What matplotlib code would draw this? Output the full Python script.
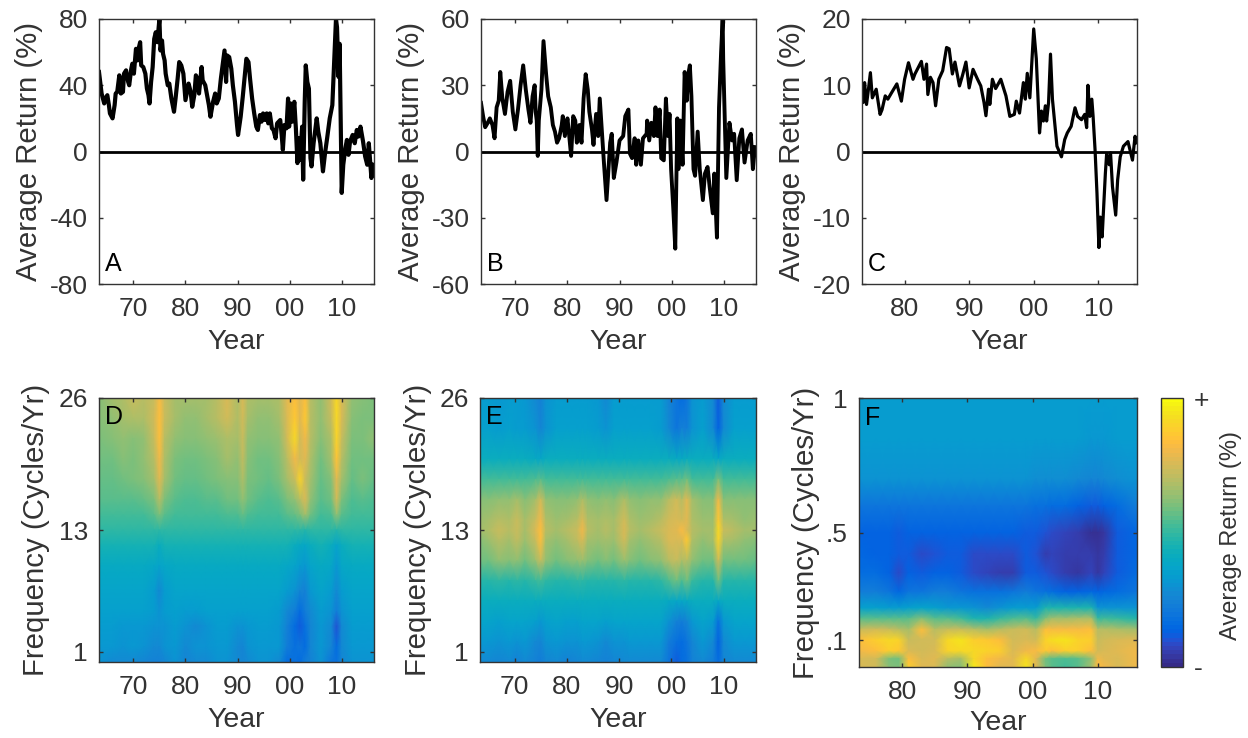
import numpy as np
import matplotlib
matplotlib.use('Agg')
from matplotlib import pyplot as plt
from matplotlib.colors import ListedColormap, Normalize
from matplotlib.cm import ScalarMappable

plt.rcParams['font.family'] = ['Liberation Sans', 'DejaVu Sans']

W, H = 1248, 738
GRAY = '#333333'

# line panels
years_a = [1963.4,1963.9,1964.4,1964.8,1965.0,1965.3,1965.5,1966.0,1966.4,1966.6,1966.9,1967.3,1967.6,1968.0,1968.2,1968.6,1969.0,1969.2,1969.6,1969.8,
           1970.1,1970.5,1970.8,1971.0,1971.3,1971.5,1971.9,1972.3,1972.6,1972.9,1973.1,1973.4,1973.7,1974.0,1974.3,1974.6,1975.0,1975.2,1975.5,1975.7,
           1976.0,1976.2,1976.6,1976.9,1977.3,1977.8,1978.1,1978.5,1978.8,1979.2,1979.6,1980.0,1980.3,1980.6,1981.0,1981.3,1981.7,1982.0,1982.3,1982.6,
           1983.1,1983.3,1983.8,1984.1,1984.5,1984.8,1985.3,1985.7,1986.0,1986.4,1986.8,1987.2,1987.5,1987.8,1988.0,1988.4,1988.8,1989.1,1989.5,1989.9,
           1990.1,1990.6,1991.0,1991.4,1991.7,1992.1,1992.4,1992.8,1993.2,1993.6,1993.9,1994.3,1994.6,1994.9,1995.3,1995.6,1995.9,1996.2,1996.6,1996.9,
           1997.3,1997.6,1998.2,1998.5,1998.7,1999.0,1999.4,1999.7,1999.9,2000.2,2000.5,2000.9,2001.2,2001.5,2001.8,2002.0,2002.4,2002.6,2002.9,2003.1,
           2003.4,2003.7,2004.0,2004.2,2004.6,2005.0,2005.2,2005.5,2005.9,2006.4,2006.8,2007.2,2007.7,2008.2,2008.5,2008.9,2009.1,2009.4,2009.6,2009.8,
           2010.0,2010.3,2010.7,2011.0,2011.3,2011.6,2012.1,2012.5,2012.9,2013.2,2013.6,2014.1,2014.5,2014.9,2015.2,2015.7,2016.1]
ret_a = [48,35,29,33,34,28,23,20,28,35,36,46,35,36,47,49,42,40,50,53,
         47,62,55,62,66,52,51,47,38,34,29,42,51,68,72,66,80,61,67,59,
         55,47,40,41,32,24,32,44,54,52,47,31,36,41,36,27,34,46,44,35,
         51,43,40,35,28,21,30,35,29,32,44,54,61,42,58,57,50,40,30,16,
         10,21,33,46,56,54,44,32,23,15,13,22,18,23,19,23,17,23,14,13,
         8,17,19,9,1,16,14,32,15,29,18,30,14,-7,8,-5,15,-17,30,52,
         42,38,-4,-9,5,15,20,12,5,-12,-1,8,20,28,50,80,75,45,65,18,
         -25,-8,2,7,-2,6,10,5,13,9,15,6,-3,-8,5,-16,-8]

years_b = [1963.4,1963.8,1964.2,1964.7,1965.1,1965.6,1966.0,1966.4,1966.8,1967.1,1967.5,1968.0,1968.5,1969.0,1969.5,1970.0,1970.5,1971.0,1971.5,1972.0,
           1972.5,1972.9,1973.3,1973.7,1973.9,1974.1,1974.3,1974.5,1975.0,1975.4,1975.9,1976.3,1976.8,1977.2,1977.6,1978.0,1978.4,1978.9,1979.1,1979.5,
           1980.0,1980.3,1980.7,1981.1,1981.5,1981.8,1982.3,1982.7,1983.1,1983.5,1983.9,1984.2,1984.7,1985.0,1985.5,1985.9,1986.2,1987.0,1987.5,1988.2,
           1988.5,1988.9,1989.4,1990.0,1990.7,1991.1,1991.7,1992.0,1992.4,1992.9,1993.2,1993.6,1994.1,1994.5,1995.2,1995.3,1995.7,1996.1,1996.6,1996.9,
           1997.3,1997.7,1998.0,1998.5,1998.9,1999.3,1999.6,1999.9,2000.3,2000.7,2001.1,2001.3,2001.7,2002.1,2002.5,2002.9,2003.2,2003.5,2003.8,2004.2,
           2004.5,2005.0,2005.4,2006.0,2006.4,2006.9,2007.3,2007.9,2008.2,2008.7,2009.1,2009.5,2009.8,2009.9,2010.2,2010.5,2011.1,2011.6,2012.0,2012.5,
           2013.0,2013.5,2014.0,2014.6,2015.2,2015.6,2016.0]
ret_b = [22,16,11,13,15,12,6,20,23,36,24,17,27,32,18,10,19,30,39,28,
         19,13,25,30,18,14,-2,14,28,50,35,25,20,12,9,4,6,12,16,7,
         15,8,-2,16,14,4,12,4,24,35,28,18,10,3,17,7,24,-5,-22,4,
         8,-12,-5,5,7,16,19,-1,-3,6,-6,5,-6,6,8,14,5,13,7,20,
         7,19,-3,-4,24,7,17,-8,-25,-44,15,-8,14,-6,36,23,35,39,25,-8,
         -11,9,-8,-22,-10,-7,-16,-28,-10,-39,20,45,60,42,15,-12,13,5,8,-13,
         6,10,-5,5,8,-8,2]

years_c = [1973.4,1973.6,1973.8,1974.1,1974.4,1974.7,1975.0,1975.6,1976.2,1976.5,1977.0,1977.4,1978.0,1978.8,1979.5,1980.0,1980.6,1981.3,1981.6,1982.6,
           1983.0,1983.4,1983.6,1984.0,1984.4,1984.8,1985.3,1985.9,1986.5,1986.9,1987.4,1987.8,1988.5,1989.0,1989.5,1990.0,1990.6,1991.3,1991.8,1992.3,
           1992.6,1993.0,1993.2,1993.6,1994.1,1994.9,1995.7,1996.3,1997.0,1997.3,1997.8,1998.4,1998.7,1999.0,1999.4,2000.0,2000.4,2000.9,2001.2,2001.5,
           2001.8,2002.0,2002.3,2002.6,2002.9,2003.6,2004.3,2004.8,2005.2,2005.8,2006.4,2006.8,2007.4,2007.9,2008.2,2008.4,2008.7,2009.0,2009.2,2009.5,
           2009.8,2010.1,2010.3,2010.6,2011.1,2011.3,2011.7,2011.9,2012.2,2012.7,2013.0,2013.4,2013.9,2014.6,2015.3,2015.7,2015.9]
ret_c = [9.6,7.4,10.4,7.1,9.4,11.9,8.1,9.4,5.6,6.3,8.4,7.9,8.9,10.2,7.6,10.9,13.4,10.9,11.7,13.6,
         10.9,13.2,8.6,11.2,10.4,6.9,10.9,12.2,15.7,15.5,11.7,13.5,9.9,11.6,13.5,9.6,12.4,10.9,9.9,7.4,
         5.4,9.4,7.1,10.9,9.5,10.9,8.4,5.3,5.6,7.6,5.8,10.4,7.9,11.8,8.1,18.5,14,2.8,6.1,4.6,
         6.9,4.6,7.4,14.7,7.9,0.8,-0.8,1.8,2.8,3.8,6.6,5.3,4.8,5.6,3.6,10,5.3,7.9,5.3,0.3,
         -6.3,-14.5,-9.9,-12.9,-3.3,-0.3,-2,-0.2,-5.3,-9.6,-4.3,-0.8,0.8,1.5,-1.3,2.3,1.3]

# heat map panels, position on the colour scale 0-100
years_d = [1963.4,1966,1968,1970,1972,1974,1975,1976,1978,1980,1982,1984,1986,1988,1990,1991,1992,1994,1996,1998,1999.5,2001,2002,2003,2004,2006,2008,2009,2010,2012,2014,2016.2]
freq_d = [26,24,22,20,18,16,14.5,13,11.5,9.5,7,5,3.5,1.5,0]
heat_d = [
    [62,66,68,72,70,72,82,72,66,66,66,66,70,76,68,76,68,66,66,68,78,84,78,84,70,64,74,91,76,64,62,60],
    [62,64,66,68,68,74,84,72,66,64,64,66,70,74,68,74,66,64,64,66,76,86,78,86,70,64,72,92,76,62,60,60],
    [60,62,63,62,64,72,83,70,63,61,61,63,65,68,66,72,64,61,61,64,74,92,74,80,70,61,68,90,72,60,60,63],
    [58,59,61,60,63,70,80,68,60,59,59,60,62,66,64,71,62,59,59,62,70,80,74,78,68,59,66,85,70,59,59,59],
    [57,57,59,60,62,66,78,66,59,57,57,58,60,62,62,68,60,58,57,60,66,72,90,72,66,57,62,78,66,57,60,57],
    [55,55,55,56,57,60,70,60,55,54,54,55,56,58,58,64,58,55,54,56,60,64,70,76,64,55,58,74,60,54,55,54],
    [53,53,53,53,53,55,60,56,53,53,53,53,53,54,54,57,54,53,53,53,55,57,60,66,58,53,54,64,55,53,53,53],
    [49,49,49,49,49,49,49,49,49,49,49,49,49,49,49,49,49,49,49,49,49,49,49,48,49,49,49,48,49,49,49,49],
    [44,44,44,44,44,44,42,44,44,44,44,44,44,44,44,44,44,44,44,44,44,42,40,38,42,44,42,36,42,44,44,44],
    [40,40,40,40,40,38,36,39,40,40,40,40,40,40,40,40,40,40,40,40,38,36,34,32,36,40,38,32,38,40,40,40],
    [37,37,37,37,37,33,27,33,37,37,37,37,37,37,37,37,37,37,37,36,33,30,26,24,32,36,34,28,34,37,37,37],
    [35,35,35,35,35,33,30,33,35,34,34,35,35,35,35,35,35,35,35,34,28,22,16,22,28,34,30,22,30,35,35,35],
    [33,33,32,32,32,30,30,31,33,30,28,30,33,33,31,30,32,33,33,32,24,16,12,18,26,32,28,10,28,33,33,33],
    [32,32,30,32,30,27,28,30,32,28,30,30,32,32,28,26,30,32,32,32,22,18,20,16,26,32,26,16,28,32,32,32],
    [30,28,27,28,26,24,24,26,30,25,27,28,30,30,27,25,28,30,30,28,16,18,16,22,24,30,20,18,26,30,30,30],
]

years_e = [1963.4,1965,1967,1969,1970.5,1972,1974,1975,1976,1978,1980,1982,1983,1984,1986,1987.5,1989,1991,1992,1994,1996,1998,1999.5,2001,2002,2003,2004,2006,2008,2009,2010,2012,2014,2016.2]
freq_e = [26,23,20,18,16,14,13,12,10,8,6,4,2,0]
heat_e = [
    [33,33,32,33,33,32,28,24,30,33,33,33,33,33,32,28,33,33,33,33,33,33,26,20,16,20,30,33,28,12,28,33,33,33],
    [35,35,34,35,34,34,30,26,31,35,35,35,35,35,34,31,35,35,35,35,35,34,28,20,24,22,30,35,28,14,28,35,35,35],
    [42,42,42,42,42,42,40,39,41,42,42,42,42,42,42,41,42,42,42,42,42,42,41,40,40,41,41,42,41,38,41,42,42,42],
    [52,52,53,52,53,52,54,56,53,52,52,52,53,52,52,53,52,53,52,52,52,52,54,56,55,58,53,52,52,60,52,52,52,52],
    [62,62,64,64,66,62,66,74,64,62,62,64,68,64,62,64,62,68,64,62,64,64,70,74,70,78,66,62,62,80,62,62,62,62],
    [65,66,70,68,72,66,72,80,68,65,66,70,76,68,66,68,66,74,68,65,66,70,74,76,74,78,68,65,65,86,68,66,64,65],
    [66,68,73,70,73,67,75,84,69,66,69,73,80,69,67,69,67,76,69,66,69,73,76,78,82,76,69,66,67,92,72,69,66,66],
    [62,65,70,67,71,65,73,84,67,64,67,71,76,67,65,67,65,74,67,64,67,70,76,76,76,86,68,64,66,90,68,66,64,62],
    [59,59,63,61,63,59,65,72,63,59,61,63,65,61,59,61,59,65,61,59,61,63,70,72,68,70,63,59,59,74,59,59,59,57],
    [48,48,49,48,49,48,50,52,49,48,48,49,49,48,48,48,48,49,48,48,48,49,54,58,54,58,50,48,48,58,48,48,48,48],
    [42,42,42,42,42,42,42,41,42,42,42,42,42,42,42,42,42,42,42,42,42,42,40,39,38,40,41,42,42,38,42,42,42,42],
    [36,36,35,36,36,36,35,32,35,36,35,35,36,36,36,35,36,36,36,36,36,36,30,24,22,26,32,36,34,18,32,36,36,36],
    [32,32,30,32,30,32,28,26,30,32,30,30,32,32,30,28,30,30,32,32,32,32,22,18,16,20,26,32,28,14,28,32,32,32],
    [28,28,26,28,24,28,24,22,26,28,24,26,28,28,26,24,26,28,28,28,28,28,20,12,16,18,24,28,22,16,26,28,28,28],
]

years_f = [1973.4,1976,1978,1979.5,1981,1983,1985,1987,1989,1991,1993,1995,1997,1999,2000.5,2002,2003,2005,2007,2009,2010,2011,2013,2016]
freq_f = [1,.85,.7,.6,.5,.42,.35,.28,.22,.18,.14,.1,.06,.03,0]
heat_f = [
    [34,34,34,34,34,34,34,34,34,34,34,34,34,34,34,34,34,34,34,34,34,34,34,34],
    [33,33,33,33,33,33,33,33,33,33,33,33,33,33,33,33,33,33,33,32,32,32,33,33],
    [30,30,30,30,30,30,30,30,30,30,30,30,30,30,29,29,29,29,28,26,26,27,29,31],
    [20,20,20,20,20,20,20,20,19,19,19,19,19,19,18,18,17,16,14,12,12,13,17,22],
    [14,14,13,12,13,14,13,13,13,13,13,13,13,12,11,10,9,7,6,3,2,4,11,15],
    [15,14,13,11,12,9,10,12,11,9,8,8,8,11,10,6,7,6,5,6,4,6,12,15],
    [17,16,14,9,14,11,13,14,12,9,7,6,6,12,11,10,8,5,4,7,4,7,12,16],
    [22,22,20,15,20,20,22,22,20,18,18,18,20,22,20,18,17,14,14,15,14,15,17,20],
    [35,35,33,33,35,36,35,32,32,30,28,30,33,34,33,46,46,46,46,46,30,30,30,30],
    [55,55,55,55,56,62,55,55,52,46,46,50,54,55,50,62,66,66,68,68,50,52,50,48],
    [72,74,72,70,66,84,70,72,72,70,66,70,72,74,70,84,82,82,82,84,70,70,68,66],
    [84,88,91,90,72,74,74,92,94,88,86,84,74,76,74,90,93,95,90,88,72,74,76,78],
    [80,84,88,86,76,74,76,90,92,92,90,88,76,80,82,86,84,88,88,84,74,76,78,80],
    [76,74,60,58,84,76,78,70,66,92,84,80,78,92,78,58,56,54,56,64,80,78,76,80],
    [76,74,62,60,88,78,76,64,62,96,84,78,78,95,78,60,56,52,56,66,84,80,76,80],
]

parula = ListedColormap([
    (0.2081,0.1663,0.5292),(0.2116,0.1898,0.5777),(0.2123,0.2138,0.6270),(0.2081,0.2386,0.6771),
    (0.1959,0.2645,0.7279),(0.1707,0.2919,0.7792),(0.1253,0.3242,0.8303),(0.0591,0.3598,0.8683),
    (0.0117,0.3875,0.8820),(0.0060,0.4086,0.8828),(0.0165,0.4266,0.8786),(0.0329,0.4430,0.8720),
    (0.0498,0.4586,0.8641),(0.0629,0.4737,0.8554),(0.0723,0.4887,0.8467),(0.0779,0.5040,0.8384),
    (0.0793,0.5200,0.8312),(0.0749,0.5375,0.8263),(0.0641,0.5570,0.8240),(0.0488,0.5772,0.8228),
    (0.0343,0.5966,0.8199),(0.0265,0.6137,0.8135),(0.0239,0.6287,0.8038),(0.0231,0.6418,0.7913),
    (0.0228,0.6535,0.7768),(0.0267,0.6642,0.7607),(0.0384,0.6743,0.7436),(0.0590,0.6838,0.7254),
    (0.0843,0.6928,0.7062),(0.1133,0.7015,0.6859),(0.1453,0.7098,0.6646),(0.1801,0.7177,0.6424),
    (0.2178,0.7250,0.6193),(0.2586,0.7317,0.5954),(0.3022,0.7376,0.5712),(0.3482,0.7424,0.5473),
    (0.3953,0.7459,0.5244),(0.4420,0.7481,0.5033),(0.4871,0.7491,0.4840),(0.5300,0.7491,0.4661),
    (0.5709,0.7485,0.4494),(0.6099,0.7473,0.4337),(0.6473,0.7456,0.4188),(0.6834,0.7435,0.4044),
    (0.7184,0.7411,0.3905),(0.7525,0.7384,0.3768),(0.7858,0.7356,0.3633),(0.8185,0.7327,0.3498),
    (0.8507,0.7299,0.3360),(0.8824,0.7274,0.3217),(0.9139,0.7258,0.3063),(0.9450,0.7261,0.2886),
    (0.9739,0.7314,0.2666),(0.9938,0.7455,0.2403),(0.9990,0.7653,0.2164),(0.9955,0.7861,0.1967),
    (0.9880,0.8066,0.1794),(0.9789,0.8271,0.1633),(0.9697,0.8481,0.1475),(0.9626,0.8705,0.1309),
    (0.9589,0.8949,0.1132),(0.9598,0.9218,0.0948),(0.9661,0.9514,0.0755),(0.9763,0.9831,0.0538)])

fig = plt.figure(figsize=(W/100, H/100), dpi=100)

def add_axes(x0, x1, y0, y1):
    # pixel box, y from the top of the image
    return fig.add_axes([x0/W, 1-y1/H, (x1-x0)/W, (y1-y0)/H])

def style(ax, letter, xlim, xticks, xticklabels, ylim, yticks, yticklabels, ylabel, lab_x, year_y):
    ax.set_xlim(xlim)
    ax.set_ylim(ylim)
    ax.set_xticks(xticks)
    ax.set_xticklabels(xticklabels)
    ax.set_yticks(yticks)
    ax.set_yticklabels(yticklabels)
    ax.tick_params(direction='in', length=3, width=1, top=True, right=True, color=GRAY,
                   labelcolor=GRAY, labelsize=19)
    ax.tick_params(axis='x', pad=9.5)
    ax.tick_params(axis='y', pad=8)
    for s in ax.spines.values():
        s.set_color(GRAY)
        s.set_linewidth(1)
    ax.set_ylabel(ylabel, fontsize=21.2, color=GRAY)
    ax.set_xlabel('Year', fontsize=20.5, color=GRAY)
    ax.yaxis.set_label_coords(lab_x, 0.5)
    ax.xaxis.set_label_coords(0.5, year_y)
    ax.text(0.022, 0.05 if letter in 'ABC' else 0.9, letter, transform=ax.transAxes, fontsize=18,
            color='black', va='baseline', ha='left')

xt_long = [1970, 1980, 1990, 2000, 2010]
xl_long = ['70', '80', '90', '00', '10']
xt_short = [1980, 1990, 2000, 2010]
xl_short = ['80', '90', '00', '10']
lim_long = (1963.4, 2016.2)
lim_short = (1973.4, 2016.0)

line_panels = [
    ('A', (99, 374), years_a, ret_a, 80, [-80,-40,0,40,80], lim_long, xt_long, xl_long, 3.0),
    ('B', (481, 756), years_b, ret_b, 60, [-60,-30,0,30,60], lim_long, xt_long, xl_long, 2.8),
    ('C', (862, 1137), years_c, ret_c, 20, [-20,-10,0,10,20], lim_short, xt_short, xl_short, 2.3),
]
for letter, (x0, x1), yrs, vals, top, yt, lim, xt, xl, lw in line_panels:
    ax = add_axes(x0, x1, 19, 284)
    ax.axhline(0, color='black', lw=2.0)
    ax.plot(yrs, vals, color='black', lw=lw, solid_joinstyle='round')
    style(ax, letter, lim, xt, xl, (-top, top), yt, [str(v) for v in yt],
          'Average Return (%)', -0.204, -0.17)

heat_panels = [
    ('D', (99, 374, 662), years_d, freq_d, heat_d, (0, 26), [1,13,26], ['1','13','26'], lim_long, xt_long, xl_long, -0.179, -0.17),
    ('E', (480, 756, 662), years_e, freq_e, heat_e, (0, 26), [1,13,26], ['1','13','26'], lim_long, xt_long, xl_long, -0.175, -0.17),
    ('F', (859, 1137, 667), years_f, freq_f, heat_f, (0, 1), [.1,.5,1], ['.1','.5','1'], lim_short, xt_short, xl_short, -0.14, -0.158),
]
for letter, (x0, x1, y1), yrs, frq, heat, yl, yt, ytl, lim, xt, xl, lab_x, year_y in heat_panels:
    ax = add_axes(x0, x1, 398, y1)
    ax.pcolormesh(yrs, frq, np.array(heat, dtype=float), shading='gouraud', cmap=parula, vmin=0, vmax=100)
    style(ax, letter, lim, xt, xl, yl, yt, ytl, 'Frequency (Cycles/Yr)', lab_x, year_y)

cax = add_axes(1161, 1183, 398, 667)
cb = fig.colorbar(ScalarMappable(Normalize(0, 100), parula), cax=cax, ticks=[0, 100])
cb.ax.set_yticklabels(['-', '+'], fontsize=19, color=GRAY)
cb.ax.tick_params(length=0, pad=8)
cb.outline.set_edgecolor(GRAY)
cb.outline.set_linewidth(1)
cb.set_label('Average Return (%)', fontsize=17, color=GRAY)
cb.ax.yaxis.set_label_coords(2.69, 0.487)

fig.savefig('out.png', dpi=100)
